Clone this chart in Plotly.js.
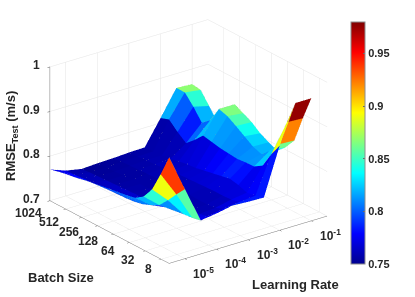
<!DOCTYPE html>
<html><head><meta charset="utf-8">
<script src="https://cdn.plot.ly/plotly-3.0.1.min.js"></script>
<style>html,body{margin:0;padding:0;background:#fff}#c{width:415px;height:297px}</style></head>
<body><div id="c"></div>
<script>
const lrExponents=[-5.5,-5,-4.5,-4,-3.5,-3,-2.5,-2,-1.5,-1];
const batchRows=[0,1,2,3,4,5,6,7,8,9,10,11,12,13,14];
const col0=[.938,.89,.846,.82,.807,.803,.80,.797,.794,.79,.787,.782,.779,.775,.77];
const col1=[.856,.834,.811,.79,.78,.772,.768,.766,.765,.764,.763,.761,.76,.758,.757];
const col2=[.775,.771,.769,.766,.764,.761,.759,.758,.757,.756,.755,.754,.753,.752,.75];
const col3=[.78,.764,.759,.758,.758,.758,.757,.757,.756,.756,.755,.755,.754,.753,.752];
const col4=[.787,.77,.762,.76,.76,.761,.761,.76,.76,.759,.758,.757,.756,.755,.753];
const col5=[.785,.775,.77,.769,.769,.768,.767,.766,.765,.763,.761,.759,.758,.756,.755];
const col6=[.784,.778,.775,.782,.786,.782,.778,.774,.77,.768,.765,.76,.758,.757,.756];
const col7=[.89,.86,.825,.813,.812,.81,.812,.814,.818,.822,.802,.785,.80,.818,.811];
const col8=[.975,.9217,.862,.838,.82,.827,.84,.853,.865,.871,.836,.82,.846,.868,.868];
const col9=[.975,.92,.86,.835,.817,.826,.836,.851,.861,.871,.82,.81,.837,.863,.866];
const columns=[col0,col1,col2,col3,col4,col5,col6,col7,col8,col9];
const lrTickVals=[-5,-4,-3,-2,-1];
const lrTickText=['10<sup>-5</sup>','10<sup>-4</sup>','10<sup>-3</sup>','10<sup>-2</sup>','10<sup>-1</sup>'];
const batchTickVals=[12.13,10.26,8.4,6.53,4.67,2.8,.93];
const batchLabelRows=[14,11.67,9.33,7,4.67,2.33,0];
const batchLabelDrop=[12,11,10,9,9,7,6];
const batchTickText=['1024','512','256','128','64','32','8'];
const zTickVals=[.7,.8,.9,1];
const zTickText=['0.7','0.8','0.9','1'];
const cbTickVals=[.75,.8,.85,.9,.95];
const cbTickText=['0.75','0.8','0.85','0.9','0.95'];
const jet=[[0,'#00008f'],[.125,'#0000ff'],[.375,'#00ffff'],[.625,'#ffff00'],[.875,'#ff0000'],[1,'#800000']];

const nc=lrExponents.length,nr=batchRows.length;
const X=[],Y=[],Z=[],I=[],J=[],K=[],C=[];
const id=(c,r)=>c*nr+r;
columns.forEach((col,c)=>col.forEach((v,r)=>{X.push(lrExponents[c]);Y.push(batchRows[r]);Z.push(v);}));
for(let c=0;c<nc-1;c++)for(let r=0;r<nr-1;r++){
  const a=id(c,r),b=id(c+1,r),d=id(c+1,r+1),e=id(c,r+1),v=columns[c][r];
  I.push(a,a);J.push(b,d);K.push(d,e);C.push(v,v);
}
const traces=[{type:'mesh3d',x:X,y:Y,z:Z,i:I,j:J,k:K,intensity:C,intensitymode:'cell',
  colorscale:jet,cmin:.75,cmax:.98,flatshading:true,hoverinfo:'skip',
  lighting:{ambient:1,diffuse:0,specular:0,roughness:1,fresnel:0},
  colorbar:{thicknessmode:'pixels',thickness:14,lenmode:'pixels',len:242,xanchor:'left',x:351/415,
    yanchor:'top',y:1-22/297,xpad:0,ypad:0,outlinecolor:'#8c8c8c',outlinewidth:1,borderwidth:0,
    tickmode:'array',tickvals:cbTickVals,ticktext:cbTickText,ticks:'inside',ticklen:2,tickcolor:'#666',
    tickfont:{family:'Liberation Sans',size:11,color:'#262626',weight:700}}}];
const lineStyle={color:'rgba(125,125,125,0.75)',width:1,dash:'dot'};
for(let c=0;c<nc;c++)traces.push({type:'scatter3d',mode:'lines',x:batchRows.map(()=>lrExponents[c]),y:batchRows,z:columns[c],line:lineStyle,hoverinfo:'skip',showlegend:false});
for(let r=0;r<nr;r++)traces.push({type:'scatter3d',mode:'lines',x:lrExponents,y:columns.map(()=>batchRows[r]),z:columns.map(col=>col[r]),line:lineStyle,hoverinfo:'skip',showlegend:false});
const tickFont={family:'Liberation Sans',size:12,color:'#262626'};
const titleFont={family:'Liberation Sans',size:13,color:'#262626'};
const ax={showbackground:false,gridcolor:'#e4e4e4',gridwidth:1,showline:true,linecolor:'#777',linewidth:1,
  zeroline:false,showspikes:false,ticks:'outside',ticklen:3,tickcolor:'#555',tickmode:'array',showticklabels:false,title:{text:''}};
const label=(x,y,z,text,xshift,yshift,xanchor)=>({x,y,z,text:'<b>'+text+'</b>',showarrow:false,xshift,yshift,xanchor,yanchor:'middle',font:tickFont});
const sceneNotes=[
  ...lrTickVals.map((v,i)=>label(v,0,.7,lrTickText[i],19,-14,'center')),
  ...batchLabelRows.map((v,i)=>label(-5.5,v,.7,batchTickText[i],-21,-batchLabelDrop[i],'center')),
  ...zTickVals.map((v,i)=>label(-5.5,14,v,zTickText[i],-8,2,'right'))
];
const layout={width:415,height:297,margin:{l:0,r:0,t:0,b:0},paper_bgcolor:'#fff',showlegend:false,
  font:{family:'Liberation Sans',color:'#262626'},
  scene:{domain:{x:[0,377/415],y:[1-283/297,1]},
    aspectmode:'manual',aspectratio:{x:1.399,y:1.399,z:1.03},
    camera:{projection:{type:'orthographic'},eye:{x:-1.106,y:-1.466,z:.794},center:{x:0,y:0,z:0},up:{x:0,y:0,z:1}},
    xaxis:Object.assign({},ax,{range:[-5.5,-.5],tickvals:lrTickVals}),
    yaxis:Object.assign({},ax,{range:[0,14],tickvals:batchTickVals}),
    zaxis:Object.assign({},ax,{range:[.7,1],tickvals:zTickVals}),
    annotations:sceneNotes},
  annotations:[
    {xref:'paper',yref:'paper',x:61/415,y:1-277/297,xanchor:'center',yanchor:'middle',text:'<b>Batch Size</b>',showarrow:false,font:titleFont},
    {xref:'paper',yref:'paper',x:295/415,y:1-284/297,xanchor:'center',yanchor:'middle',text:'<b>Learning Rate</b>',showarrow:false,font:titleFont},
    {xref:'paper',yref:'paper',x:11/415,y:1-136/297,xanchor:'center',yanchor:'middle',text:'<b>RMSE<sub>Test</sub> (m/s)</b>',textangle:-90,showarrow:false,font:titleFont}
  ]};
Plotly.newPlot('c',traces,layout,{displayModeBar:false});
</script></body></html>
